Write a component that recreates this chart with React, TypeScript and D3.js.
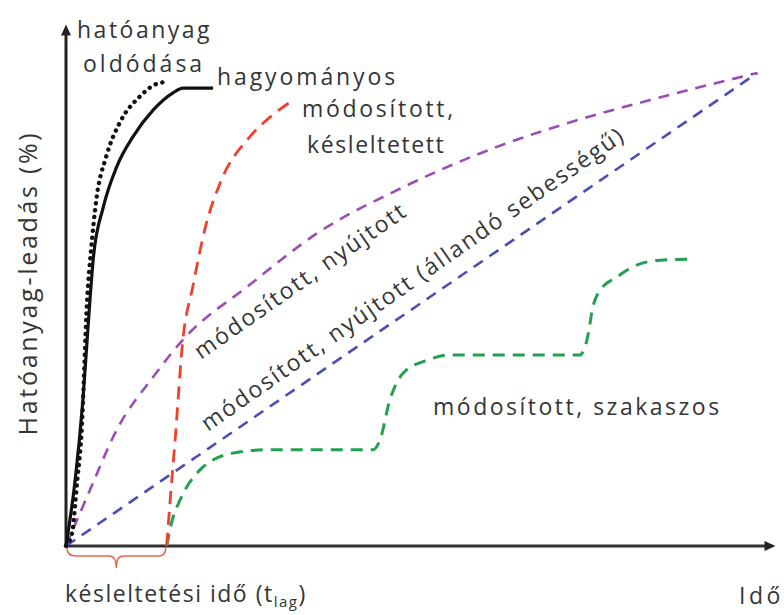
import React from "react";
import * as d3 from "d3";

type P = [number, number];

// Dissolution of active ingredient (dotted)
const dissolution: P[] = [
  [0, 0], [0.85, 2.7], [1.6, 13.9], [2.2, 23.8], [3.0, 51.9], [3.6, 63.1], [4.3, 73.0],
  [5.7, 82.1], [7.6, 89.2], [10.4, 94.7], [13.3, 97.7], [14.5, 97.9],
];
// conventional (solid black)
const conventional: P[] = [
  [0, 0], [1.3, 13.9], [2.4, 30.8], [3.4, 51.9], [3.9, 61], [5.3, 71.5], [7.2, 80],
  [9.5, 86.3], [12.4, 92], [15.2, 95.6], [16.6, 96.6], [20.9, 96.6],
];
// modified, delayed (red)
const delayed: P[] = [
  [14.3, 0], [14.8, 9.7], [15.5, 22.4], [16.6, 43.5], [18.0, 54.6], [19.7, 66.7],
  [21.9, 76.6], [26.1, 86.3], [29.0, 90.5], [32.1, 93.9],
];
// modified, extended (purple)
const extended: P[] = [
  [0, 0], [3.4, 11.8], [7.2, 24.5], [12.4, 35.7], [16.6, 43.5], [26.1, 55.1], [35.7, 66],
  [47.9, 75.7], [61.2, 84.2], [71.2, 89.2], [83, 94.1], [98.2, 99.8],
];
// modified, extended constant rate (blue)
const constantRate: P[] = [[0, 0], [98.2, 99.8]];
// modified, pulsatile (green)
const pulsatile: P[] = [
  [14.3, 0], [15.1, 5.5], [16.2, 9.7], [19.0, 16.0], [23.7, 19.6], [28.6, 20.3],
  [43.6, 20.3], [44.6, 22.4], [46.0, 30.8], [47.9, 36.5], [51.3, 39.2], [54.5, 40.3],
  [73.0, 40.3], [74.0, 43.5], [74.9, 50.8], [75.9, 54.0], [78.3, 56.8], [80.5, 58.9],
  [84.4, 60.3], [88.6, 60.5],
];
const lagTime = 14.3;

const FONT = "'Open Sans', sans-serif";
const TEXT = "#353535";

export default function App() {
  const x = d3.scaleLinear().domain([0, 100]).range([66, 770]);
  const y = d3.scaleLinear().domain([0, 100]).range([546, 72]);
  const line = d3
    .line<P>()
    .x((d) => x(d[0]))
    .y((d) => y(d[1]))
    .curve(d3.curveMonotoneX);

  const x0 = x(0), y0 = y(0);
  const xEnd = x(100.5), yTop = y(109.6);
  const xl = x(lagTime);
  const mid = (x0 + xl) / 2;
  const brace = `M${x0 + 1},${y0 + 2} Q${x0 + 1},${y0 + 10} ${x0 + 10},${y0 + 10} L${mid - 7},${y0 + 10} Q${mid},${y0 + 10} ${mid},${y0 + 22} Q${mid},${y0 + 10} ${mid + 7},${y0 + 10} L${xl - 8},${y0 + 10} Q${xl - 1},${y0 + 10} ${xl - 1},${y0 + 2}`;

  return (
    <svg
      width={784}
      height={615}
      style={{ position: "absolute", left: 0, top: 0, background: "#fff" }}
      fontFamily={FONT}
    >
      {/* axes */}
      <line x1={x0} y1={y0} x2={x0} y2={yTop + 6} stroke="#222" strokeWidth={3} />
      <path d={`M${x0 - 5},${yTop + 9} L${x0},${yTop - 2} L${x0 + 5},${yTop + 9} Z`} fill="#222" />
      <line x1={x0} y1={y0} x2={xEnd - 6} y2={y0} stroke="#333" strokeWidth={3} />
      <path d={`M${xEnd - 9},${y0 - 5} L${xEnd + 2},${y0} L${xEnd - 9},${y0 + 5} Z`} fill="#222" />

      {/* curves */}
      <path d={line(constantRate) || ""} fill="none" stroke="#4b4db3" strokeWidth={2.6} strokeDasharray="11 8" />
      <path d={line(extended) || ""} fill="none" stroke="#9b4cb5" strokeWidth={2.6} strokeDasharray="11 8" />
      <path d={line(pulsatile) || ""} fill="none" stroke="#22a04f" strokeWidth={3} strokeDasharray="12 8" />
      <path d={line(delayed) || ""} fill="none" stroke="#f0402e" strokeWidth={2.8} strokeDasharray="13 8" />
      <path d={line(conventional) || ""} fill="none" stroke="#111" strokeWidth={3.2} />
      <path d={line(dissolution) || ""} fill="none" stroke="#111" strokeWidth={4.4} strokeDasharray="0.1 6.8" strokeLinecap="round" />

      {/* lag brace */}
      <path d={brace} fill="none" stroke="#e8654f" strokeWidth={1.5} />

      {/* labels */}
      <g fill={TEXT} fontSize={23} letterSpacing={2.5}>
        <text x={77} y={38}>hatóanyag</text>
        <text x={83} y={72} letterSpacing={3}>oldódása</text>
        <text x={217} y={85} letterSpacing={2.9}>hagyományos</text>
        <text x={302} y={117} letterSpacing={2.7}>módosított,</text>
        <text x={307} y={153} letterSpacing={1.6}>késleltetett</text>
        <text x={433} y={415}>módosított, szakaszos</text>
        <text transform="translate(201,360) rotate(-35)" letterSpacing={2}>módosított, nyújtott</text>
        <text transform="translate(208,432) rotate(-35)" letterSpacing={2}>módosított, nyújtott (állandó sebességű)</text>
        <text x={739} y={604} letterSpacing={3.5}>Idő</text>
        <text x={65} y={602} letterSpacing={1.5}>
          késleltetési idő (t<tspan fontSize={15} dy={5}>lag</tspan><tspan dy={-5}>)</tspan>
        </text>
        <text transform="translate(37,283) rotate(-90)" textAnchor="middle" fontSize={25} letterSpacing={2.7}>Hatóanyag-leadás (%)</text>
      </g>
    </svg>
  );
}
